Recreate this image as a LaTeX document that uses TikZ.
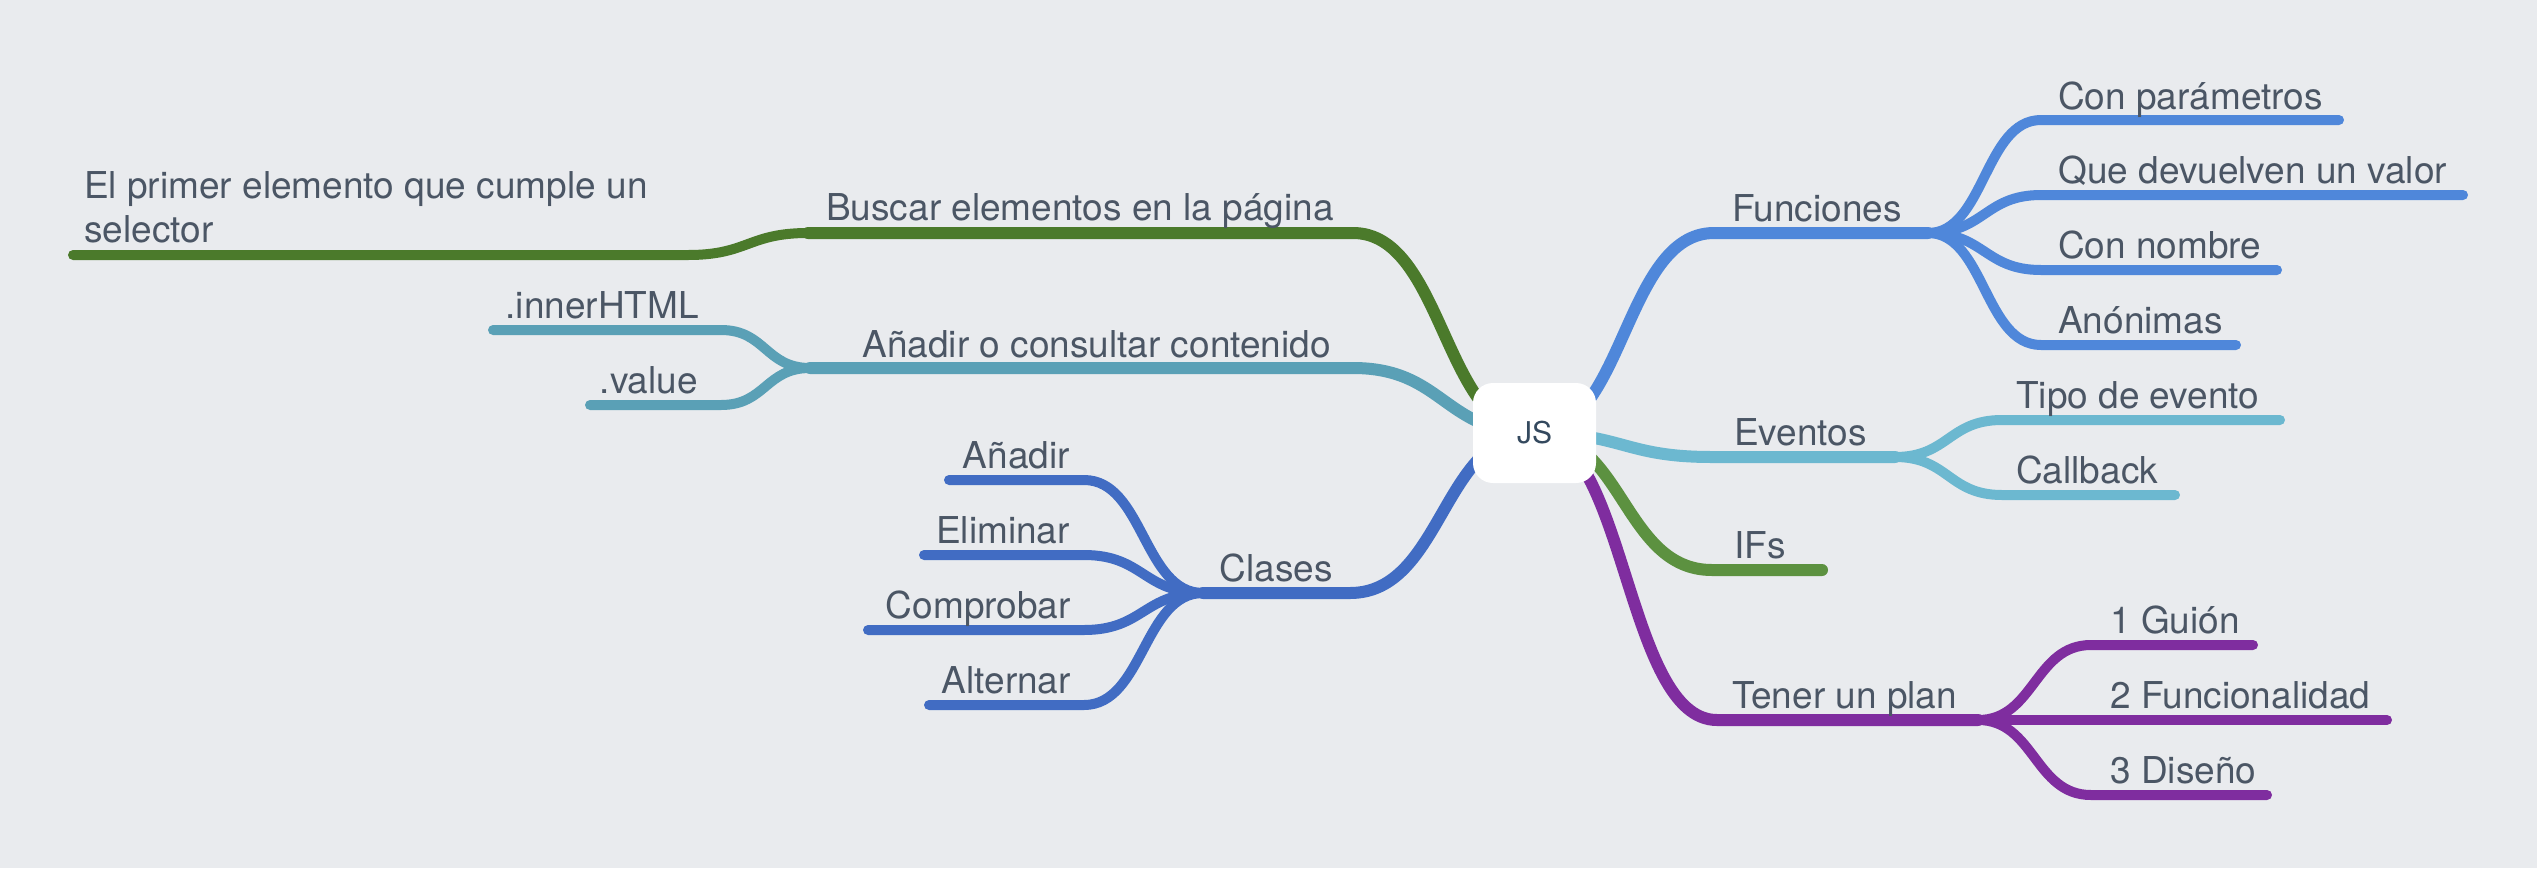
\documentclass[tikz,border=0pt]{standalone}
\usepackage{fontspec}
\setmainfont{TeX Gyre Heros}
\usetikzlibrary{calc}
\definecolor{bgc}{HTML}{E9EBEE}
\definecolor{txt}{HTML}{4B5665}
\definecolor{jstxt}{HTML}{34495E}
\definecolor{cBus}{HTML}{4B7A2B}
\definecolor{cIfs}{HTML}{5C9140}
\definecolor{cAna}{HTML}{5AA0B6}
\definecolor{cFun}{HTML}{4F87DA}
\definecolor{cEve}{HTML}{6CB8D0}
\definecolor{cCla}{HTML}{416CC3}
\definecolor{cPla}{HTML}{7F2D9F}
\pgfdeclarelayer{back}
\pgfdeclarelayer{lines}
\pgfsetlayers{back,lines,main}
\tikzset{
  lbl/.style={inner sep=0pt, text=txt, font=\fontsize{37}{44}\selectfont},
  mainbr/.style={line width=12pt, line cap=round, line join=round},
  subbr/.style={line width=10pt, line cap=round, line join=round},
  scurve/.style={to path={let \p1=(\tikztostart), \p2=(\tikztotarget) in
      .. controls ({0.5*\x1+0.5*\x2},\y1) and ({0.5*\x1+0.5*\x2},\y2) .. (\tikztotarget)}},
  jsbox/.style={fill=white, rounded corners=20pt, minimum width=123pt, minimum height=100pt,
      inner sep=0pt, text=jstxt, font=\fontsize{30}{36}\selectfont},
}
\begin{document}
\begin{tikzpicture}[x=1pt,y=-1pt]
\useasboundingbox (0,0) rectangle (2537,868);
\begin{pgfonlayer}{back}
\fill[bgc] (0,0) rectangle (2537,868);
\end{pgfonlayer}

\node[jsbox] (js) at (1534.5,433) {JS};

% coordinates
\coordinate (bB) at (1353,233); \coordinate (jB) at (808,233);
\coordinate (sPr) at (688,255); \coordinate (ePr) at (73,255);
\coordinate (bA) at (1353,368); \coordinate (jA) at (810,368);
\coordinate (sIn) at (721,330); \coordinate (eIn) at (493,330);
\coordinate (sVa) at (721,405); \coordinate (eVa) at (590,405);
\coordinate (bC) at (1350,593); \coordinate (jC) at (1203,593);
\coordinate (sAd) at (1084,480); \coordinate (eAd) at (949,480);
\coordinate (sEl) at (1084,555); \coordinate (eEl) at (924,555);
\coordinate (sCo) at (1084,630); \coordinate (eCo) at (868,630);
\coordinate (sAl) at (1084,705); \coordinate (eAl) at (929,705);
\coordinate (bF) at (1714,233); \coordinate (jF) at (1928,233);
\coordinate (sCp) at (2041,120); \coordinate (eCp) at (2339,120);
\coordinate (sQd) at (2041,195); \coordinate (eQd) at (2463,195);
\coordinate (sCn) at (2041,270); \coordinate (eCn) at (2277,270);
\coordinate (sAn) at (2041,345); \coordinate (eAn) at (2236,345);
\coordinate (bE) at (1712,457); \coordinate (jE) at (1895,457);
\coordinate (sTi) at (2002,420); \coordinate (eTi) at (2280,420);
\coordinate (sCb) at (2002,495); \coordinate (eCb) at (2175,495);
\coordinate (bI) at (1712,570); \coordinate (eI) at (1822,570);
\coordinate (bP) at (1717,720); \coordinate (jP) at (1978,720);
\coordinate (sG1) at (2091,645); \coordinate (eG1) at (2253,645);
\coordinate (sG2) at (2091,720); \coordinate (eG2) at (2387,720);
\coordinate (sG3) at (2091,795); \coordinate (eG3) at (2267,795);

\begin{pgfonlayer}{lines}
% Buscar
\draw[mainbr, cBus] (js.center) to[scurve] (bB) -- (jB);
\draw[subbr, cBus] (jB) to[scurve] (sPr) -- (ePr);
% Anadir o consultar
\draw[mainbr, cAna] (js.center) to[scurve] (bA) -- (jA);
\draw[subbr, cAna] (jA) to[scurve] (sIn) -- (eIn);
\draw[subbr, cAna] (jA) to[scurve] (sVa) -- (eVa);
% Clases
\draw[mainbr, cCla] (js.center) to[scurve] (bC) -- (jC);
\draw[subbr, cCla] (jC) to[scurve] (sAd) -- (eAd);
\draw[subbr, cCla] (jC) to[scurve] (sEl) -- (eEl);
\draw[subbr, cCla] (jC) to[scurve] (sCo) -- (eCo);
\draw[subbr, cCla] (jC) to[scurve] (sAl) -- (eAl);
% Funciones
\draw[mainbr, cFun] (js.center) to[scurve] (bF) -- (jF);
\draw[subbr, cFun] (jF) to[scurve] (sCp) -- (eCp);
\draw[subbr, cFun] (jF) to[scurve] (sQd) -- (eQd);
\draw[subbr, cFun] (jF) to[scurve] (sCn) -- (eCn);
\draw[subbr, cFun] (jF) to[scurve] (sAn) -- (eAn);
% Eventos
\draw[mainbr, cEve] (js.center) to[scurve] (bE) -- (jE);
\draw[subbr, cEve] (jE) to[scurve] (sTi) -- (eTi);
\draw[subbr, cEve] (jE) to[scurve] (sCb) -- (eCb);
% IFs
\draw[mainbr, cIfs] (js.center) to[scurve] (bI) -- (eI);
% Tener un plan
\draw[mainbr, cPla] (js.center) to[scurve] (bP) -- (jP);
\draw[subbr, cPla] (jP) to[scurve] (sG1) -- (eG1);
\draw[subbr, cPla] (jP) -- (sG2) -- (eG2);
\draw[subbr, cPla] (jP) to[scurve] (sG3) -- (eG3);
\end{pgfonlayer}

% labels
\node[lbl, anchor=base west, align=left] (tPr) at (84,242) {El primer elemento que cumple un\\selector};
\node[lbl, anchor=base east] (tBus) at (1334,220) {Buscar elementos en la página};
\node[lbl, anchor=base east] (tAna) at (1331,357) {Añadir o consultar contenido};
\node[lbl, anchor=base east] (tIn) at (699,318) {.innerHTML};
\node[lbl, anchor=base east] (tVa) at (698,393) {.value};
\node[lbl, anchor=base east] (tCla) at (1333,581) {Clases};
\node[lbl, anchor=base east] (tAd) at (1070,468) {Añadir};
\node[lbl, anchor=base east] (tEl) at (1070,543) {Eliminar};
\node[lbl, anchor=base east] (tCo) at (1071,618) {Comprobar};
\node[lbl, anchor=base east] (tAl) at (1071,693) {Alternar};
\node[lbl, anchor=base west] (tFun) at (1732,221) {Funciones};
\node[lbl, anchor=base west] (tCp) at (2058,109) {Con parámetros};
\node[lbl, anchor=base west] (tQd) at (2058,183) {Que devuelven un valor};
\node[lbl, anchor=base west] (tCn) at (2058,258) {Con nombre};
\node[lbl, anchor=base west] (tAn) at (2058,333) {Anónimas};
\node[lbl, anchor=base west] (tEv) at (1734,445) {Eventos};
\node[lbl, anchor=base west] (tTi) at (2016,408) {Tipo de evento};
\node[lbl, anchor=base west] (tCb) at (2016,483) {Callback};
\node[lbl, anchor=base west] (tIf) at (1734,558) {IFs};
\node[lbl, anchor=base west] (tPl) at (1732,708) {Tener un plan};
\node[lbl, anchor=base west] (tG1) at (2110,633) {1 Guión};
\node[lbl, anchor=base west] (tG2) at (2110,708) {2 Funcionalidad};
\node[lbl, anchor=base west] (tG3) at (2110,783) {3 Diseño};
\end{tikzpicture}
\end{document}
